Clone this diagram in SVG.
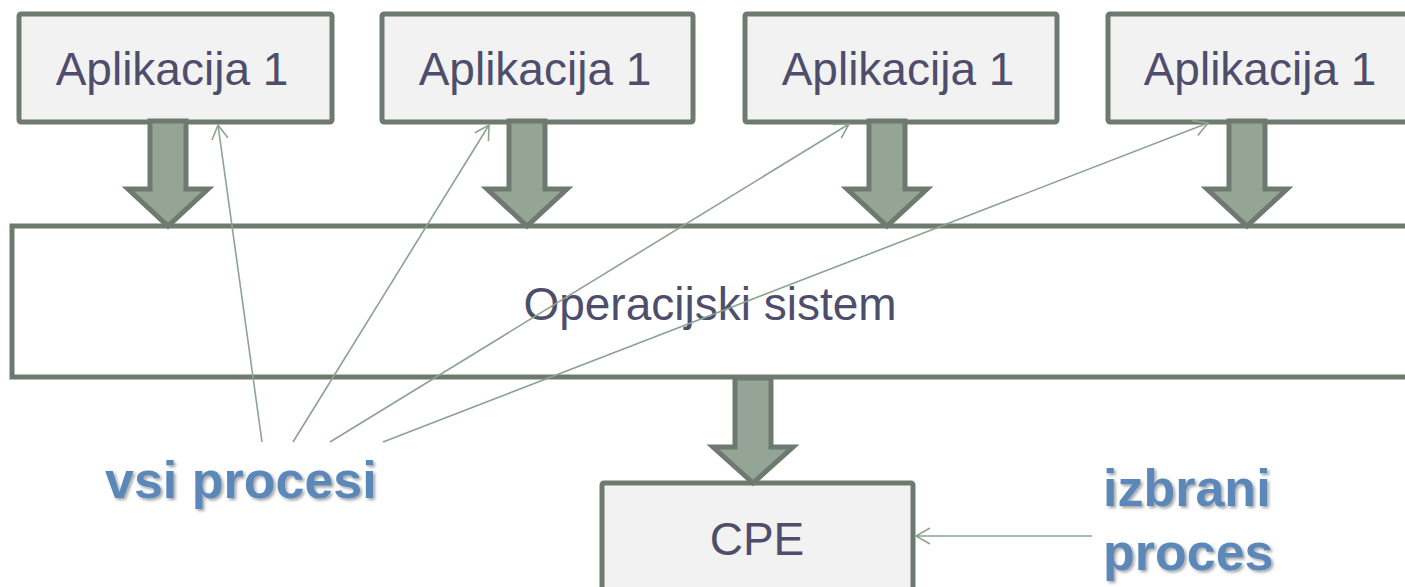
<svg xmlns="http://www.w3.org/2000/svg" width="1405" height="587" viewBox="0 0 1405 587">
<style>
.box{fill:#f2f2f2;stroke:#6e7a6f;stroke-width:5}
.blk{fill:#94a495;stroke:#6e7a6f;stroke-width:5;stroke-linejoin:miter}
.lbl{font-family:"Liberation Sans",Arial,sans-serif;font-size:46px;fill:#4e4e6c;text-anchor:middle}
.big{font-family:"Liberation Sans",Arial,sans-serif;font-size:52px;font-weight:bold;fill:#5b87b9}
.thin{stroke:#8da391;stroke-width:1.6;fill:none}
</style>
<defs>
<marker id="ah" markerUnits="userSpaceOnUse" markerWidth="20" markerHeight="20" viewBox="0 0 20 20" refX="18" refY="10" orient="auto">
<path d="M4,2 L18,10 L4,18" fill="none" stroke="#8da391" stroke-width="1.6"/>
</marker>
<filter id="sh" x="-10%" y="-10%" width="130%" height="140%">
<feDropShadow dx="2" dy="2" stdDeviation="1.5" flood-color="#000" flood-opacity="0.35"/>
</filter>
</defs>
<g id="os">
<rect class="box" x="12" y="226" width="1410" height="151" style="fill:#ffffff"/>
</g>
<g id="app1">
<rect class="box" x="19" y="14" width="313" height="108" rx="2"/>
<text class="lbl" x="172" y="85">Aplikacija 1</text>
</g>
<g id="app2">
<rect class="box" x="382" y="14" width="311" height="108" rx="2"/>
<text class="lbl" x="535" y="85">Aplikacija 1</text>
</g>
<g id="app3">
<rect class="box" x="745" y="14" width="312" height="108" rx="2"/>
<text class="lbl" x="898" y="85">Aplikacija 1</text>
</g>
<g id="app4">
<rect class="box" x="1108" y="14" width="320" height="108" rx="2"/>
<text class="lbl" x="1260" y="85">Aplikacija 1</text>
</g>
<g id="cpe">
<rect class="box" x="602" y="483" width="311" height="120" rx="2"/>
<text class="lbl" x="757" y="555">CPE</text>
</g>
<g id="os-label">
<text class="lbl" x="710" y="320">Operacijski sistem</text>
</g>
<g id="vsi">
<text class="big" x="105" y="498" filter="url(#sh)">vsi procesi</text>
</g>
<g id="izbrani">
<text class="big" x="1103" y="506" filter="url(#sh)">izbrani</text>
<text class="big" x="1103" y="570" filter="url(#sh)">proces</text>
</g>
<g id="connectors">
<polygon class="blk" points="150,121 186,121 186,189 208,189 168,226 128,189 150,189"/>
<polygon class="blk" points="509,121 545,121 545,189 567,189 527,226 487,189 509,189"/>
<polygon class="blk" points="869,121 905,121 905,189 927,189 887,226 847,189 869,189"/>
<polygon class="blk" points="1229,121 1265,121 1265,189 1287,189 1247,226 1207,189 1229,189"/>
<polygon class="blk" points="735,378 771,378 771,447 793,447 753,483 713,447 735,447"/>
<line class="thin" x1="262" y1="442" x2="218" y2="125" marker-end="url(#ah)"/>
<line class="thin" x1="293" y1="442" x2="489" y2="125" marker-end="url(#ah)"/>
<line class="thin" x1="330" y1="442" x2="849" y2="124" marker-end="url(#ah)"/>
<line class="thin" x1="383" y1="442" x2="1208" y2="123" marker-end="url(#ah)"/>
<line class="thin" x1="1092" y1="536" x2="916" y2="536" marker-end="url(#ah)"/>
</g>
</svg>
